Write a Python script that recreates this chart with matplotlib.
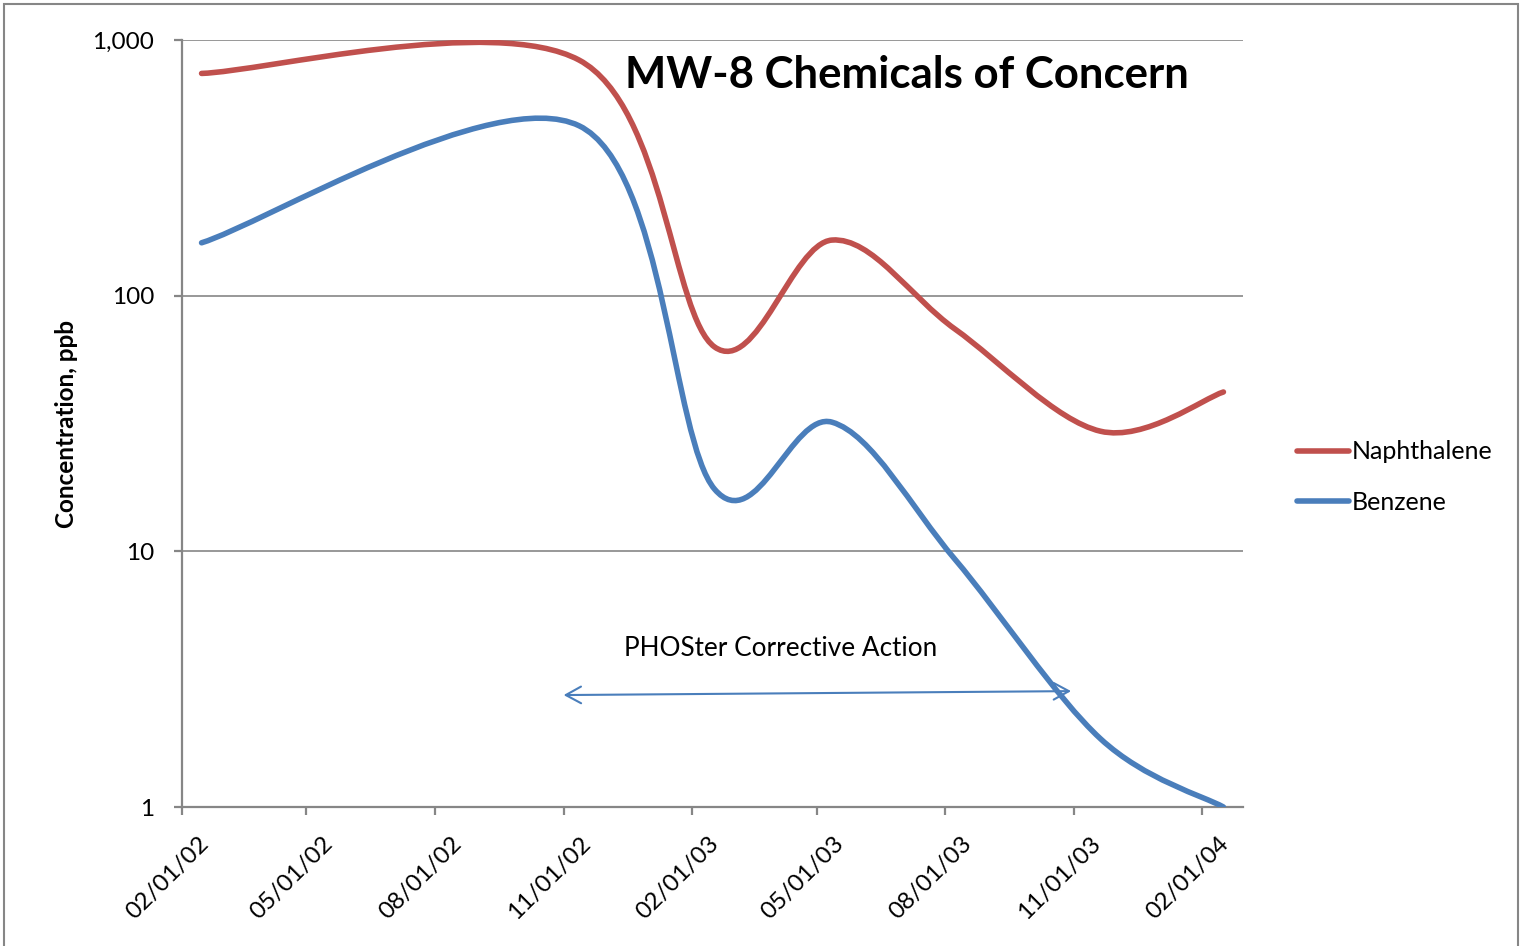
import numpy as np
import matplotlib
matplotlib.use('Agg')
from matplotlib import pyplot as plt
import matplotlib.dates as mdates
import matplotlib.transforms as mtransforms
from matplotlib.path import Path
from matplotlib.patches import PathPatch, Rectangle, FancyArrowPatch
from matplotlib.lines import Line2D
import datetime as dt

plt.rcParams['font.family'] = ['Lato', 'DejaVu Sans']

# sampling dates and concentrations (ppb)
dates = ['2002-02-15', '2002-11-12', '2003-02-17', '2003-05-12',
         '2003-08-08', '2003-11-20', '2004-02-16']
naphthalene = [740, 835, 63, 165, 74, 29.5, 42]
benzene = [161, 462, 17.5, 32, 9.3, 1.85, 1.0]

tick_dates = ['2002-02-01', '2002-05-01', '2002-08-01', '2002-11-01',
              '2003-02-01', '2003-05-01', '2003-08-01', '2003-11-01',
              '2004-02-01']

arrow_start = ('2002-10-30', 2.74)
arrow_end = ('2003-11-01', 2.84)

red = '#C0504D'
blue = '#4A7EBB'
grey = '#868686'


def todate(s):
    return mdates.date2num(dt.datetime.strptime(s, '%Y-%m-%d'))


def smooth_path(xs, ys):
    # excel-like smoothed line: cubic bezier through points (in x, log y)
    x = np.array([todate(d) for d in xs])
    ly = np.log10(np.array(ys, dtype=float))
    p = np.column_stack([x, ly])
    n = len(p)
    verts = [p[0]]
    codes = [Path.MOVETO]
    for i in range(n - 1):
        p0 = p[i - 1] if i > 0 else p[i]
        p3 = p[i + 2] if i + 2 < n else p[i + 1]
        c1 = p[i] + (p[i + 1] - p0) / 6.0
        c2 = p[i + 1] - (p3 - p[i]) / 6.0
        verts += [c1, c2, p[i + 1]]
        codes += [Path.CURVE4] * 3
    verts = np.array(verts)
    verts[:, 1] = 10 ** verts[:, 1]
    return Path(verts, codes)


fig = plt.figure(figsize=(15.28, 9.46), dpi=100)
ax = fig.add_axes([182 / 1528, 1 - 807 / 946, (1243 - 182) / 1528, (807 - 40) / 946])

ax.set_yscale('log')
ax.set_ylim(1, 1000)
ax.set_xlim(todate('2002-02-01'), todate('2004-03-01'))

for series, color, name in [(naphthalene, red, 'Naphthalene'), (benzene, blue, 'Benzene')]:
    ax.add_patch(PathPatch(smooth_path(dates, series), fill=False, edgecolor=color,
                           lw=4, capstyle='round', joinstyle='round', zorder=3))

ax.grid(axis='y', color=grey, lw=1.2)
ax.set_axisbelow(True)
for s in ['top', 'right']:
    ax.spines[s].set_visible(False)
for s in ['left', 'bottom']:
    ax.spines[s].set_color(grey)
    ax.spines[s].set_linewidth(1.6)
ax.tick_params(axis='both', colors=grey, labelcolor='black', length=6, width=1.6,
               labelsize=17.5)
ax.tick_params(axis='x', pad=5)
ax.tick_params(axis='y', pad=14)

ax.set_yticks([1, 10, 100, 1000])
ax.set_yticklabels(['1', '10', '100', '1,000'])
ax.yaxis.set_minor_locator(matplotlib.ticker.NullLocator())
ax.set_xticks([todate(d) for d in tick_dates])
ax.set_xticklabels([dt.datetime.strptime(d, '%Y-%m-%d').strftime('%m/%d/%y') for d in tick_dates],
                   rotation=45, ha='right', rotation_mode='anchor')
# nudge the rotated date labels the way excel places them
shift = mtransforms.ScaledTranslation(0.16, -0.11, fig.dpi_scale_trans)
for lab in ax.get_xticklabels():
    lab.set_transform(lab.get_transform() + shift)

ax.set_ylabel('Concentration, ppb', fontsize=17.5, fontweight='bold', labelpad=10)

ax.text(0.418, 0.955, 'MW-8 Chemicals of Concern', transform=ax.transAxes,
        fontsize=31.5, fontweight='bold', va='center', ha='left')
ax.text(todate('2003-05-01') - 26, 4.17, 'PHOSter Corrective Action', fontsize=18.8,
        ha='center', va='center')

arr = FancyArrowPatch((todate(arrow_start[0]), arrow_start[1]),
                      (todate(arrow_end[0]), arrow_end[1]),
                      arrowstyle='<->,head_length=0.55,head_width=0.3',
                      mutation_scale=20, color=blue, lw=1.5, zorder=4)
ax.add_patch(arr)

handles = [Line2D([], [], color=red, lw=4, solid_capstyle='round'),
           Line2D([], [], color=blue, lw=4, solid_capstyle='round')]
fig.legend(handles, ['Naphthalene', 'Benzene'], loc='center left',
           bbox_to_anchor=(1274 / 1528, 1 - 477 / 946), frameon=False,
           fontsize=18, handlelength=2.1, handletextpad=0.1, labelspacing=1.1)

fig.add_artist(Rectangle((4 / 1528, -0.01), (1518 - 4) / 1528, 1.01 - 4 / 946,
                         transform=fig.transFigure, fill=False, edgecolor=grey, lw=1.5))

fig.savefig('out.png', dpi=100)
